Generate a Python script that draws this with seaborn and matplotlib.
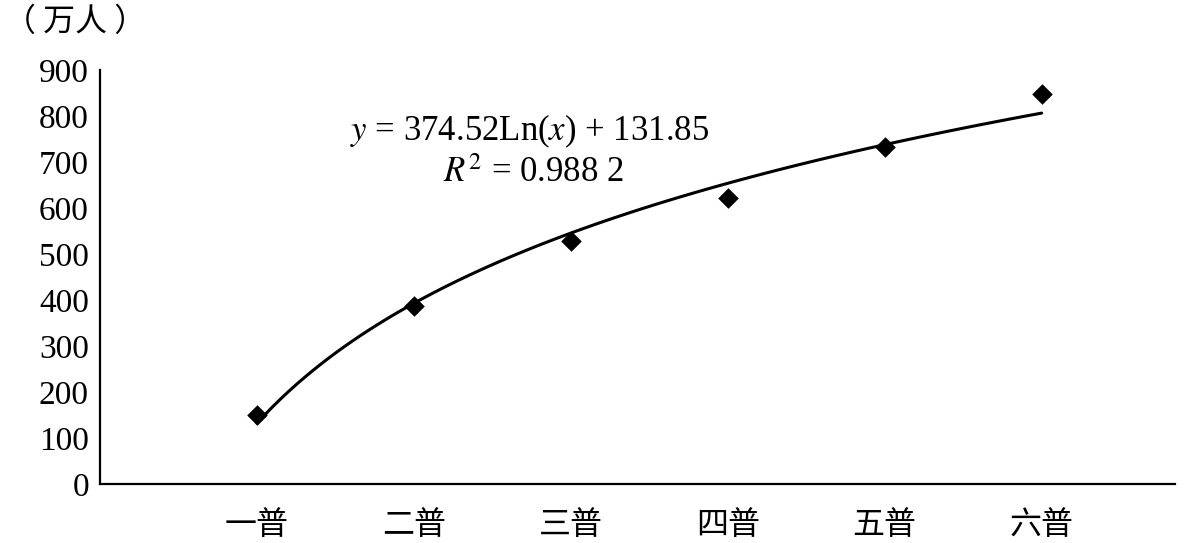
import numpy as np
import pandas as pd
import matplotlib
matplotlib.use('Agg')
import matplotlib.pyplot as plt
import seaborn as sns

# dados
censos = ['一普', '二普', '三普', '四普', '五普', '六普']
ordem = [1, 2, 3, 4, 5, 6]
populacao = [150, 387, 528, 622, 733, 848]  # 万人

df = pd.DataFrame({'ordem': ordem, 'pop': populacao})

sns.set_style('white')
plt.rcParams['font.family'] = ['Liberation Serif', 'Noto Sans CJK SC', 'DejaVu Sans']
plt.rcParams['mathtext.fontset'] = 'stix'
plt.rcParams['text.color'] = 'black'
plt.rcParams['xtick.color'] = 'black'
plt.rcParams['ytick.color'] = 'black'

fig = plt.figure(figsize=(11.87, 5.43), dpi=100)
ax = fig.add_axes([100 / 1187, 59 / 543, 1075 / 1187, 414 / 543])

# linha de tendência logarítmica + pontos
sns.regplot(data=df, x='ordem', y='pop', logx=True, ci=None, truncate=True,
            marker='D', color='black', ax=ax,
            scatter_kws={'s': 110, 'zorder': 3, 'linewidths': 0, 'alpha': 1},
            line_kws={'lw': 2.2, 'zorder': 2})

ax.set_xlim(0, 6.85)
ax.set_ylim(0, 900)
ax.set_yticks(range(0, 1000, 100))
ax.set_xticks(ordem)
ax.set_xticklabels(censos, family=['Noto Sans CJK SC'], fontsize=23)
ax.tick_params(axis='y', direction='in', length=8, width=1.5, labelsize=24, pad=8)
ax.tick_params(axis='x', length=0, pad=18)
ax.set_xlabel('')
ax.set_ylabel('')

sns.despine(ax=ax)
for s in ['left', 'bottom']:
    ax.spines[s].set_color('black')
    ax.spines[s].set_linewidth(1.6)

ax.text(2.74, 766, r'$\mathit{y}$ = 374.52Ln($\mathit{x}$) + 131.85', ha='center',
        va='center', fontsize=25)
ax.text(2.76, 676, r'$\mathit{R}^2$ = 0.988 2', ha='center', va='center', fontsize=25)

fig.text(4 / 1187, 1 - 22 / 543, '（ 万人 ）', ha='left', va='center',
         family=['Noto Sans CJK SC'], fontsize=23)

plt.savefig('out.png', dpi=100)
